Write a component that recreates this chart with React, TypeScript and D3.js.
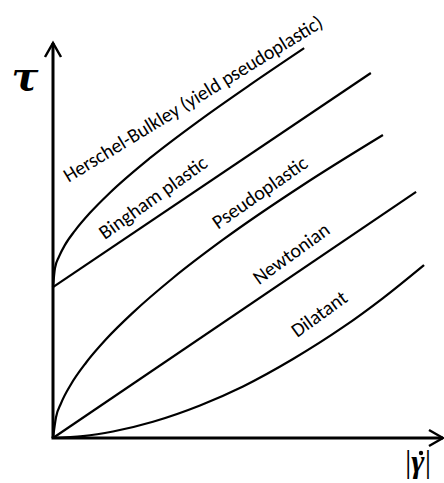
import React from "react";
import * as d3 from "d3";

const W = 444;
const H = 483;

// Flow curves: shear rate (x) vs shear stress (y), arbitrary units 0..100
const newtonianX = [0, 93.1];
const newtonianY = [0, 62.3];
const binghamX = [0, 81.5];
const binghamY = [38.2, 92.4];
const herschelX = [0, 0.51, 1.54, 3.08, 5.64, 9.49, 14.6, 24.9, 37.7, 50.5, 64.4];
const herschelY = [38.2, 43.0, 45.9, 48.9, 52.5, 57.0, 62.1, 70.9, 80.5, 89.4, 98.7];
const pseudoX = [0, 0.77, 2.05, 4.62, 8.46, 13.59, 20.51, 30.77, 43.59, 64.1, 84.6];
const pseudoY = [0, 5.24, 8.78, 13.62, 19.06, 24.99, 31.75, 40.51, 50.2, 64.05, 76.7];
const dilatantX = [0, 7.69, 15.38, 25.64, 37.69, 48.72, 61.54, 74.36, 84.62, 95.13];
const dilatantY = [0, 0.47, 1.65, 4.13, 8.25, 13.06, 20.0, 28.05, 35.44, 43.8];

const labelTexts = [
  "Herschel-Bulkley (yield pseudoplastic)",
  "Bingham plastic",
  "Pseudoplastic",
  "Newtonian",
  "Dilatant",
];
const labelX = [4.0, 13.3, 42.3, 52.8, 62.6];
const labelY = [64.6, 50.1, 52.7, 38.7, 25.3];
const labelAngle = [-31.5, -35.5, -35, -36, -36];

const xScale = d3.scaleLinear().domain([0, 100]).range([53, 443]);
const yScale = d3.scaleLinear().domain([0, 100]).range([438, 43]);

const zip = (xs: number[], ys: number[]) => xs.map((x, i) => [x, ys[i]] as [number, number]);

const curves = [
  { pts: zip(herschelX, herschelY), curve: d3.curveMonotoneX },
  { pts: zip(binghamX, binghamY), curve: d3.curveLinear },
  { pts: zip(pseudoX, pseudoY), curve: d3.curveMonotoneX },
  { pts: zip(newtonianX, newtonianY), curve: d3.curveLinear },
  { pts: zip(dilatantX, dilatantY), curve: d3.curveMonotoneX },
];

export default function App() {
  const x0 = xScale(0);
  const y0 = yScale(0);
  const xEnd = xScale(100);
  const yTop = yScale(100);
  return (
    <svg
      width={W}
      height={H}
      style={{ position: "absolute", left: 0, top: 0, background: "#fff" }}
    >
      <rect x={0} y={0} width={W} height={H} fill="#fff" />
      {curves.map((c, i) => {
        const line = d3
          .line<[number, number]>()
          .x((d) => xScale(d[0]))
          .y((d) => yScale(d[1]))
          .curve(c.curve);
        return (
          <path key={i} d={line(c.pts) || ""} fill="none" stroke="#000" strokeWidth={2.2} />
        );
      })}
      {/* axes */}
      <line x1={x0} y1={y0} x2={x0} y2={yTop} stroke="#000" strokeWidth={3} />
      <line x1={x0 - 1.5} y1={y0} x2={xEnd} y2={y0} stroke="#000" strokeWidth={3} />
      <polyline
        points={`${x0 - 8},${yTop + 14} ${x0},${yTop} ${x0 + 8},${yTop + 14}`}
        fill="none"
        stroke="#000"
        strokeWidth={2.5}
      />
      <polyline
        points={`${xEnd - 14},${y0 - 8} ${xEnd},${y0} ${xEnd - 14},${y0 + 8}`}
        fill="none"
        stroke="#000"
        strokeWidth={2.5}
      />
      {labelTexts.map((t, i) => {
        const px = xScale(labelX[i]);
        const py = yScale(labelY[i]);
        return (
          <text
            key={t}
            x={px}
            y={py}
            transform={`rotate(${labelAngle[i]} ${px} ${py})`}
            fontFamily="Carlito, Calibri, Lato, 'Open Sans', sans-serif"
            fontSize={20}
            textLength={i === 0 ? 300 : undefined}
            lengthAdjust={i === 0 ? "spacingAndGlyphs" : undefined}
            fill="#000"
          >
            {t}
          </text>
        );
      })}
      <text
        x={25}
        y={90}
        textAnchor="middle"
        fontFamily="'DejaVu Serif', 'Liberation Serif', serif"
        fontWeight="bold"
        fontStyle="italic"
        fontSize={40}
        fill="#000"
      >
        τ
      </text>
      <text
        x={418}
        y={472}
        textAnchor="middle"
        fontFamily="'Liberation Serif', 'DejaVu Serif', serif"
        fontSize={32}
        fill="#000"
      >
        |<tspan fontWeight="bold" fontStyle="italic">γ</tspan>|
      </text>
      <circle cx={421} cy={453} r={2.2} fill="#000" />
    </svg>
  );
}
